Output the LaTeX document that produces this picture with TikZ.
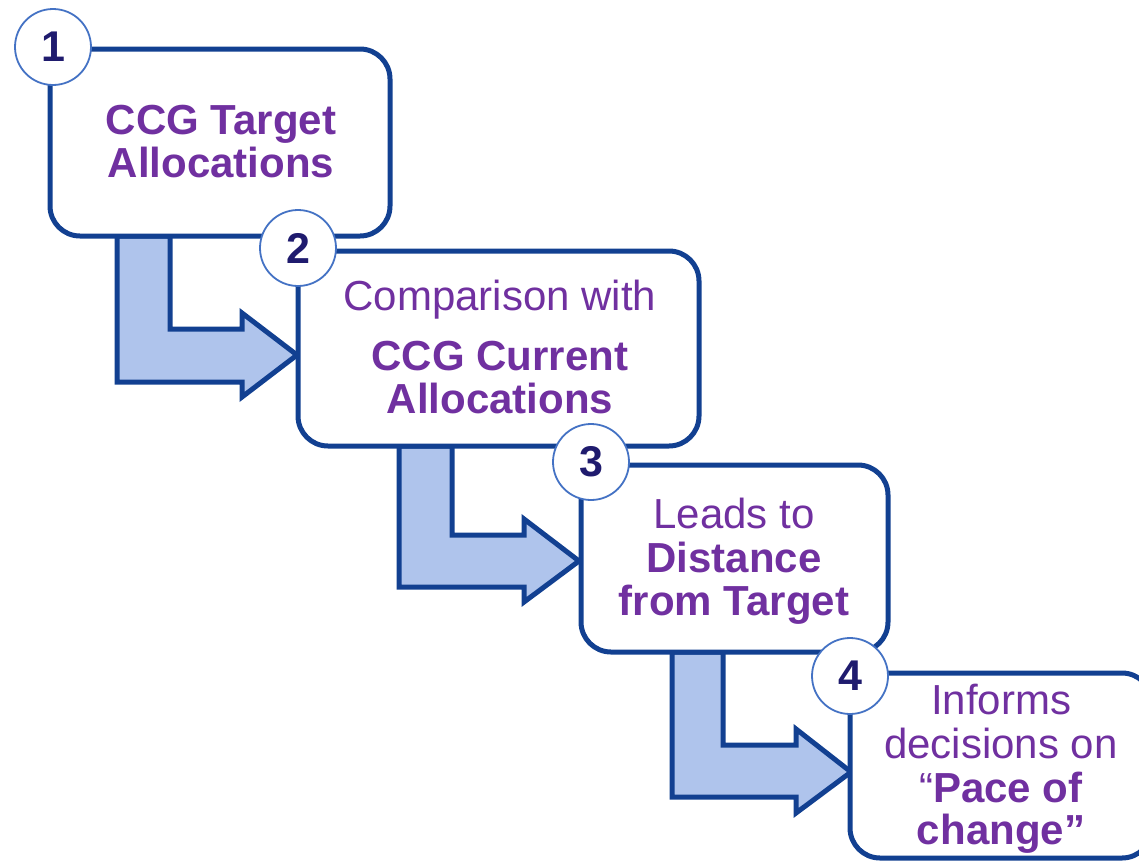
\documentclass[tikz,border=0pt]{standalone}
\usepackage{fontspec}
\setmainfont{Liberation Sans}
\definecolor{boxblue}{RGB}{18,64,145}
\definecolor{ringblue}{RGB}{68,114,196}
\definecolor{numblue}{RGB}{31,27,110}
\definecolor{txtpurple}{RGB}{112,48,160}
\definecolor{arrowfill}{RGB}{175,196,236}
\tikzset{
  stepbox/.style={draw=boxblue, line width=5pt, fill=white, rounded corners=30pt, inner sep=0pt},
  ring/.style={circle, draw=ringblue, line width=1.8pt, fill=white, minimum size=76pt, inner sep=0pt},
  num/.style={text=numblue, font=\fontsize{43}{50}\selectfont\bfseries, inner sep=0pt},
  reg/.style={text=txtpurple, font=\fontsize{42}{50}\selectfont, anchor=base, inner sep=0pt},
  bld/.style={text=txtpurple, font=\fontsize{42}{50}\selectfont\bfseries, anchor=base, inner sep=0pt},
  bent/.style={draw=boxblue, line width=5pt, fill=arrowfill, line join=miter},
}
\begin{document}
\begin{tikzpicture}[x=1pt, y=-1pt]
\useasboundingbox (0,0) rectangle (1139,862);
\clip (0,0) rectangle (1139,862);
% bent arrows (below boxes)
\draw[bent] (117,236) -- (117,382) -- (242,382) -- (242,397) -- (297,355) -- (242,313) -- (242,329) -- (170,329) -- (170,236) -- cycle;
\draw[bent] (399,446) -- (399,587) -- (524,587) -- (524,602) -- (579,561) -- (524,519) -- (524,535) -- (452,535) -- (452,446) -- cycle;
\draw[bent] (672,652) -- (672,797) -- (796,797) -- (796,813) -- (851,772) -- (796,729) -- (796,745) -- (723,745) -- (723,652) -- cycle;
% boxes
\node[stepbox, minimum width=340pt, minimum height=187pt] (b1) at (220,142.5) {};
\node[stepbox, minimum width=401pt, minimum height=195pt] (b2) at (498.5,348.5) {};
\node[stepbox, minimum width=307pt, minimum height=187pt] (b3) at (734.5,558.5) {};
\node[stepbox, minimum width=302pt, minimum height=185pt] (b4) at (1001,765.5) {};
% texts
\node[bld] (t1a) at (221,134) {CCG Target};
\node[bld] (t1b) at (221,177) {Allocations};
\node[reg] (t2a) at (500,310) {Comparison with};
\node[bld] (t2b) at (500,370) {CCG Current};
\node[bld] (t2c) at (500,413) {Allocations};
\node[reg] (t3a) at (734,528) {Leads to};
\node[bld] (t3b) at (734,572) {Distance};
\node[bld] (t3c) at (734,615) {from Target};
\node[reg] (t4a) at (1001,714) {Informs};
\node[reg] (t4b) at (1001,758) {decisions on};
\node[reg] (t4c) at (1001,802) {“\textbf{Pace of}};
\node[bld] (t4d) at (1001,844) {change”};
% numbered circles
\node[ring] (c1) at (53,47) {};
\node[num] (n1) at (c1) {1};
\node[ring] (c2) at (298,248) {};
\node[num] (n2) at (c2) {2};
\node[ring] (c3) at (591,462) {};
\node[num] (n3) at (c3) {3};
\node[ring] (c4) at (850,676) {};
\node[num] (n4) at (c4) {4};
\end{tikzpicture}
\end{document}
